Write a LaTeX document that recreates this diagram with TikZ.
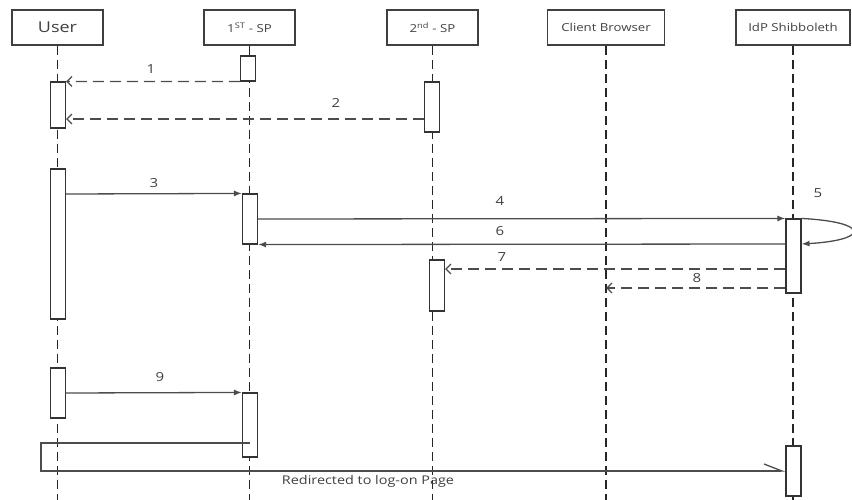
\documentclass[tikz,border=0pt]{standalone}
\usepackage{fontspec}
\setmainfont{Open Sans}[FakeStretch=1.2]
\usetikzlibrary{arrows.meta}

\begin{document}
\begin{tikzpicture}[x=1pt, y=-1pt,
    head/.style={draw=black!75, line width=1.1pt, minimum width=91, minimum height=35, inner sep=0pt, text=black!75, font=\fontsize{11}{13}\selectfont},
    life/.style={draw=black!85, line width=1.2pt, dash pattern=on 9pt off 5pt},
    act/.style={draw=black!80, fill=white, line width=1.1pt, minimum width=15, inner sep=0pt},
    call/.style={draw=black!70, line width=1.3pt, -{Latex[length=8pt,width=6pt]}},
    reply/.style={draw=black!70, line width=1.3pt, dash pattern=on 11pt off 6pt, -{Straight Barb[length=5pt,width=10pt]}},
    num/.style={text=black!75, font=\fontsize{12.5}{14}\selectfont},
]
\useasboundingbox (0,0) rectangle (852,500);

% Lifeline heads
\node[head, font=\fontsize{15}{17}\selectfont] (user) at (57.5,27.5) {User};
\node[head] (sp1) at (249.5,27.5) {1\textsuperscript{ST} - SP};
\node[head] (sp2) at (432.5,27.5) {2\textsuperscript{nd} - SP};
\node[head, minimum width=117] (browser) at (606,27.5) {Client Browser};
\node[head, minimum width=114] (idp) at (793,27.5) {IdP Shibboleth};

% Lifelines
\foreach \n in {user,sp1,sp2,browser,idp}
    \draw[life] (\n.south) -- (\n.south |- 0,500);

% Activations
\node[act, minimum height=25] (sp1a) at (248,68.5) {};
\node[act, minimum height=46] (u1) at (58,105) {};
\node[act, minimum height=50] (sp2a) at (432,107) {};
\node[act, minimum height=150] (u2) at (58,244) {};
\node[act, minimum height=50] (sp1b) at (250,219) {};
\node[act, minimum height=74] (idp1) at (793.5,256) {};
\node[act, minimum height=51] (sp2b) at (437,285.5) {};
\node[act, minimum height=50] (u3) at (58,393) {};
\node[act, minimum height=64] (sp1c) at (250,425) {};
\node[act, minimum height=50] (idp2) at (793.5,471) {};

% Messages
\draw[reply] (sp1a.south west) -- (u1.north east);
\node[num] (l1) at (151,69) {1};
\draw[reply] (sp2a.west |- 0,119) -- (u1.east |- 0,119);
\node[num] (l2) at (336,103) {2};
\draw[call] (u2.east |- 0,194) -- (sp1b.north west);
\node[num] (l3) at (154,183) {3};
\draw[call] (sp1b.east |- 0,219) -- (idp1.north west);
\node[num] (l4) at (500,201) {4};
\draw[call] (idp1.north east) .. controls (870,222) and (870,240) .. (idp1.east |- 0,244);
\node[num] (l5) at (818,193) {5};
\draw[call] (idp1.west |- 0,244) -- (sp1b.south east);
\node[num] (l6) at (500,231) {6};
\draw[reply] (idp1.west |- 0,269) -- (sp2b.east |- 0,269);
\node[num] (l7) at (502,257) {7};
\draw[reply] (idp1.west |- 0,288) -- (browser.south |- 0,288);
\node[num] (l8) at (697,278) {8};
\draw[call] (u3.east |- 0,393) -- (sp1c.north west);
\node[num] (l9) at (160,377) {9};

% Redirect back to the IdP
\draw[draw=black!70, line width=1.3pt, -{Straight Barb[harpoon, length=18pt, width=14pt]}]
    (sp1c.center |- 0,443) -| (41,471) -- (idp2.west |- 0,471);
\node[num, font=\fontsize{12}{14}\selectfont] (redir) at (368,481) {Redirected to log-on Page};
\end{tikzpicture}
\end{document}
